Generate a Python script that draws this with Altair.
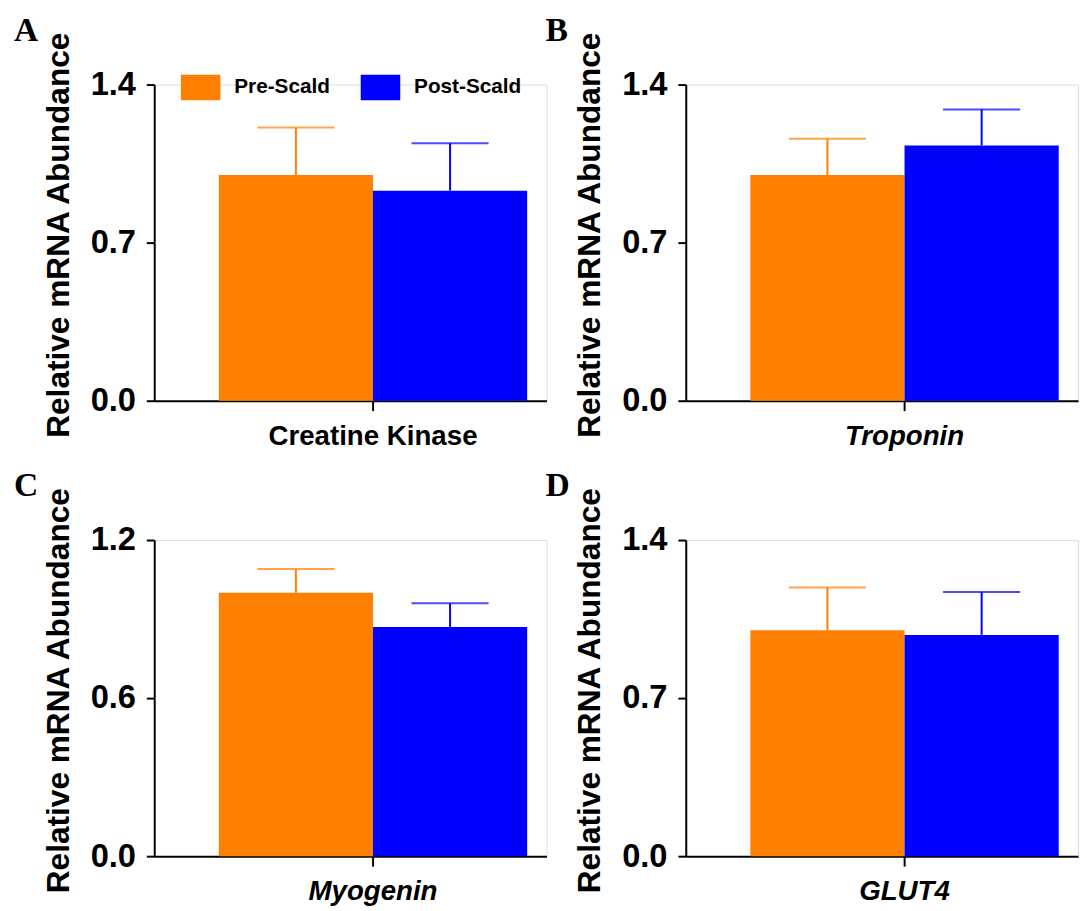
import altair as alt
import pandas as pd

# ---- data ----
groups = ["Pre-Scald", "Post-Scald"]
colors = ["#FF8000", "#0000FF"]

genes = ["Creatine Kinase", "Troponin", "Myogenin", "GLUT4"]
letters = ["A", "B", "C", "D"]
pre_mean = [1.00, 1.00, 1.00, 1.00]
pre_upper = [1.21, 1.16, 1.09, 1.19]
post_mean = [0.93, 1.13, 0.87, 0.98]
post_upper = [1.14, 1.29, 0.96, 1.17]
y_max = [1.4, 1.4, 1.2, 1.4]
y_ticks = [[0, 0.7, 1.4], [0, 0.7, 1.4], [0, 0.6, 1.2], [0, 0.7, 1.4]]
label_style = ["normal", "italic", "italic", "italic"]

SANS = "Liberation Sans"
SERIF = "Liberation Serif"


def panel(i):
    df = pd.DataFrame({
        "gene": [genes[i]] * 2,
        "group": groups,
        "mean": [pre_mean[i], post_mean[i]],
        "upper": [pre_upper[i], post_upper[i]],
    })
    xenc = alt.X(
        "gene:N",
        scale=alt.Scale(paddingInner=0, paddingOuter=0.136, align=0.77),
        axis=alt.Axis(
            title=None, labelAngle=0, labelFont=SANS, labelFontSize=28,
            labelFontWeight="bold", labelFontStyle=label_style[i],
            labelColor="black", labelLimit=500, tickSize=10, tickWidth=2,
            tickColor="black", domainWidth=2, domainColor="black",
            labelPadding=12, grid=False,
        ),
    )
    xoff = alt.XOffset("group:N", sort=groups,
                       scale=alt.Scale(paddingInner=0, paddingOuter=0))
    color = alt.Color(
        "group:N", sort=groups,
        scale=alt.Scale(domain=groups, range=colors),
        legend=alt.Legend(
            title=None, orient="none", legendX=27, legendY=-17,
            direction="horizontal", symbolType="M-1,-0.65H1V0.65H-1Z",
            symbolSize=1600, symbolStrokeWidth=0, symbolOpacity=1,
            labelFont=SANS, labelFontSize=21, labelFontWeight="bold",
            labelColor="black", labelOffset=14, columnPadding=31,
            labelLimit=300, padding=0,
        ),
    )
    yscale = alt.Scale(domain=[0, y_max[i]], nice=False, zero=True)
    yaxis = alt.Axis(
        values=y_ticks[i], format=".1f", title="Relative mRNA Abundance",
        titleFont=SANS, titleFontSize=32, titleFontWeight="bold",
        titleColor="black", titlePadding=15, titleY=152,
        labelFont=SANS, labelFontSize=33, labelFontWeight="bold",
        labelColor="black", labelPadding=11, tickSize=8, tickWidth=2,
        tickColor="black", domainWidth=2, domainColor="black", grid=False,
    )
    base = alt.Chart(df).encode(x=xenc, xOffset=xoff, color=color)
    bars = base.mark_bar(strokeWidth=0).encode(
        y=alt.Y("mean:Q", scale=yscale, axis=yaxis))
    rules = base.mark_rule(strokeWidth=2).encode(
        y=alt.Y("mean:Q"), y2="upper:Q")
    caps = base.mark_tick(thickness=2, size=78, orient="horizontal").encode(
        y=alt.Y("upper:Q"))
    return alt.layer(bars, rules, caps).properties(
        width=397, height=320,
        title=alt.TitleParams(
            text=letters[i], anchor="start", frame="group", dx=-142, dy=17,
            offset=0, font=SERIF, fontSize=34, fontWeight="bold",
            color="black",
        ),
    )


chart = alt.concat(
    panel(0), panel(1), panel(2), panel(3),
    columns=2,
    spacing=alt.RowColnumber(row=141, column=141),
    bounds="flush",
).properties(
    padding={"left": 5, "top": 0, "right": 0, "bottom": 0},
).configure_view(stroke=None).configure(font=SANS)

chart.save("out.html", embed_options={"renderer": "svg", "actions": False})
